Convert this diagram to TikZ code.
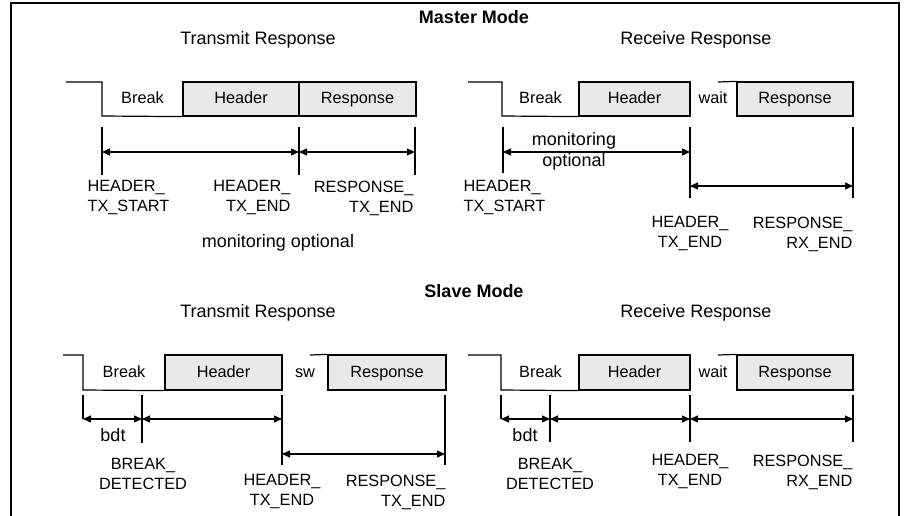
\documentclass[tikz,border=0pt]{standalone}
\usepackage{fontspec}
\setmainfont{Liberation Sans}
\usetikzlibrary{arrows.meta}
\definecolor{boxgray}{RGB}{233,233,233}
\begin{document}
\begin{tikzpicture}[x=1pt,y=-1pt,line width=1.2pt,
  txt/.style={font=\fontsize{16.3}{20}\selectfont,inner sep=0pt},
  one/.style={txt,text height=13pt,text depth=3.8pt},
  big/.style={font=\fontsize{18}{21}\selectfont,inner sep=0pt,text height=13pt,text depth=3.8pt},
  ttl/.style={font=\bfseries\fontsize{18}{21}\selectfont,inner sep=0pt,text height=13pt,text depth=3.8pt},
  seg/.style={draw,fill=boxgray,inner sep=0pt,font=\fontsize{16.3}{20}\selectfont,text height=13pt,text depth=3.8pt},
  dim/.style={{Triangle[length=8pt,width=7pt]}-{Triangle[length=8pt,width=7pt]}},
  wave/.style={line width=1.2pt}]
\useasboundingbox (0,0) rectangle (904,516);
\draw[line width=1.5pt] (11,516) -- (11,3) -- (899,3) -- (899,516);

% ---------- titles
\node[ttl] (mm) at (474,19) {Master Mode};
\node[big] (mtT) at (258,40) {Transmit Response};
\node[big] (mrT) at (696,40) {Receive Response};
\node[ttl] (sm) at (474,292.5) {Slave Mode};
\node[big] (stT) at (258,313) {Transmit Response};
\node[big] (srT) at (696,313) {Receive Response};

% ---------- Master / Transmit
\node[seg,minimum width=116pt,minimum height=34pt] (mtH) at (241,99) {Header};
\node[seg,minimum width=117pt,minimum height=34pt] (mtR) at (357.5,99) {Response};
\node[one] (mtB) at (142.5,99) {Break};
\coordinate (mtW0) at (66,82);
\coordinate (mtW1) at (102,82);
\coordinate (mtW2) at (102,116);
\draw[wave] (mtW0) -- (mtW1) -- (mtW2) -- (mtH.south west);
\coordinate (mt1a) at (102,127); \coordinate (mt1b) at (102,175);
\coordinate (mt2a) at (299,127); \coordinate (mt2b) at (299,175);
\coordinate (mt3a) at (415,127); \coordinate (mt3b) at (415,175);
\draw (mt1a) -- (mt1b); \draw (mt2a) -- (mt2b); \draw (mt3a) -- (mt3b);
\coordinate (mtA1) at (102,152); \coordinate (mtA2) at (299,152); \coordinate (mtA3) at (415,152);
\draw[dim] (mtA1) -- (mtA2);
\draw[dim] (mtA2) -- (mtA3);
\node[txt,align=left,anchor=west] (mtL1) at (87,198) {HEADER\_\\TX\_START};
\node[txt,align=right,anchor=east] (mtL2) at (291,198) {HEADER\_\\TX\_END};
\node[txt,align=right,anchor=east] (mtL3) at (414,198) {RESPONSE\_\\TX\_END};
\node[big] (mtMon) at (278,243) {monitoring optional};

% ---------- Master / Receive
\node[seg,minimum width=111pt,minimum height=34pt] (mrH) at (634.5,99) {Header};
\node[seg,minimum width=116pt,minimum height=34pt] (mrR) at (795,99) {Response};
\node[one] (mrB) at (540.5,99) {Break};
\node[one] (mrWait) at (713,99) {wait};
\coordinate (mrW0) at (468,82);
\coordinate (mrW1) at (502,82);
\coordinate (mrW2) at (502,116);
\draw[wave] (mrW0) -- (mrW1) -- (mrW2) -- (mrH.south west);
\coordinate (mrW3) at (718,82);
\draw[wave] (mrW3) -- (mrR.north west);
\coordinate (mr1a) at (503,127); \coordinate (mr1b) at (503,173);
\coordinate (mr2a) at (690,127); \coordinate (mr2b) at (690,198);
\coordinate (mr3a) at (853,127); \coordinate (mr3b) at (853,198);
\draw (mr1a) -- (mr1b); \draw (mr2a) -- (mr2b); \draw (mr3a) -- (mr3b);
\coordinate (mrA1) at (503,152); \coordinate (mrA2) at (690,152);
\coordinate (mrA3) at (690,186); \coordinate (mrA4) at (853,186);
\draw[dim] (mrA1) -- (mrA2);
\draw[dim] (mrA3) -- (mrA4);
\node[font=\fontsize{18}{21}\selectfont,inner sep=0pt,align=center] (mrMon) at (574,151) {monitoring\\optional};
\node[txt,align=left,anchor=west] (mrL1) at (463,198) {HEADER\_\\TX\_START};
\node[txt,align=center] (mrL2) at (690,234) {HEADER\_\\TX\_END};
\node[txt,align=right,anchor=east] (mrL3) at (853,234) {RESPONSE\_\\RX\_END};

% ---------- Slave / Transmit
\node[seg,minimum width=117pt,minimum height=35pt] (stH) at (223.5,372.5) {Header};
\node[seg,minimum width=118pt,minimum height=35pt] (stR) at (387,372.5) {Response};
\node[one] (stB) at (124,372.5) {Break};
\node[one] (stSw) at (305,372.5) {sw};
\coordinate (stW0) at (63,355);
\coordinate (stW1) at (83,355);
\coordinate (stW2) at (83,390);
\draw[wave] (stW0) -- (stW1) -- (stW2) -- (stH.south west);
\coordinate (stW3) at (310,355);
\draw[wave] (stW3) -- (stR.north west);
\coordinate (st1a) at (83,395);  \coordinate (st1b) at (83,419);
\coordinate (st2a) at (142,395); \coordinate (st2b) at (142,443);
\coordinate (st3a) at (282,395); \coordinate (st3b) at (282,465);
\coordinate (st4a) at (445,395); \coordinate (st4b) at (445,465);
\draw (st1a) -- (st1b); \draw (st2a) -- (st2b); \draw (st3a) -- (st3b); \draw (st4a) -- (st4b);
\coordinate (stA1) at (83,419); \coordinate (stA2) at (142,419); \coordinate (stA3) at (282,419);
\coordinate (stA4) at (282,454); \coordinate (stA5) at (445,454);
\draw[dim] (stA1) -- (stA2);
\draw[dim] (stA2) -- (stA3);
\draw[dim] (stA4) -- (stA5);
\node[big] (stBdt) at (113,437) {bdt};
\node[txt,align=center] (stL1) at (143,474) {BREAK\_\\DETECTED};
\node[txt,align=center] (stL2) at (282,492) {HEADER\_\\TX\_END};
\node[txt,align=right,anchor=east] (stL3) at (446,492) {RESPONSE\_\\TX\_END};

% ---------- Slave / Receive
\node[seg,minimum width=111pt,minimum height=35pt] (srH) at (634.5,372.5) {Header};
\node[seg,minimum width=116pt,minimum height=35pt] (srR) at (795,372.5) {Response};
\node[one] (srB) at (540.5,372.5) {Break};
\node[one] (srWait) at (713,372.5) {wait};
\coordinate (srW0) at (468,355);
\coordinate (srW1) at (501,355);
\coordinate (srW2) at (501,390);
\draw[wave] (srW0) -- (srW1) -- (srW2) -- (srH.south west);
\coordinate (srW3) at (718,355);
\draw[wave] (srW3) -- (srR.north west);
\coordinate (sr1a) at (501,395); \coordinate (sr1b) at (501,419);
\coordinate (sr2a) at (550,395); \coordinate (sr2b) at (550,442);
\coordinate (sr3a) at (690,395); \coordinate (sr3b) at (690,442);
\coordinate (sr4a) at (853,395); \coordinate (sr4b) at (853,442);
\draw (sr1a) -- (sr1b); \draw (sr2a) -- (sr2b); \draw (sr3a) -- (sr3b); \draw (sr4a) -- (sr4b);
\coordinate (srA1) at (501,419); \coordinate (srA2) at (550,419);
\coordinate (srA3) at (690,419); \coordinate (srA4) at (853,419);
\draw[dim] (srA1) -- (srA2);
\draw[dim] (srA2) -- (srA3);
\draw[dim] (srA3) -- (srA4);
\node[big] (srBdt) at (525,437) {bdt};
\node[txt,align=center] (srL1) at (550,474) {BREAK\_\\DETECTED};
\node[txt,align=center] (srL2) at (690,472) {HEADER\_\\TX\_END};
\node[txt,align=right,anchor=east] (srL3) at (853,472) {RESPONSE\_\\RX\_END};
\end{tikzpicture}
\end{document}
